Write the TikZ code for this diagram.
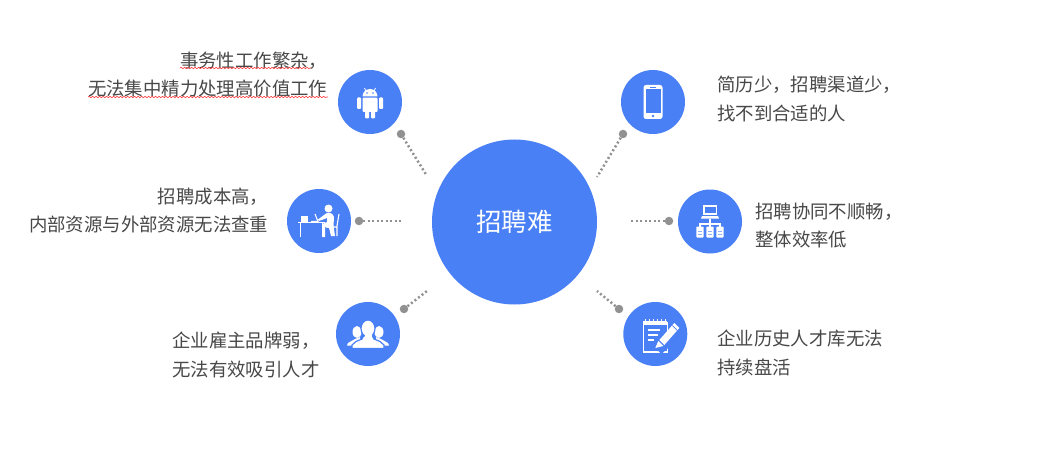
\documentclass[tikz,border=0pt]{standalone}
\usepackage{fontspec}
\setmainfont{Noto Sans CJK SC}
\usetikzlibrary{decorations.pathmorphing}
\definecolor{hub}{RGB}{74,128,245}
\definecolor{txt}{RGB}{72,72,72}
\definecolor{dotc}{RGB}{145,145,145}
\tikzset{
  x=1pt,y=-1pt,
  hubc/.style={circle,fill=hub,draw=none,inner sep=0pt,minimum size=#1},
  pin/.style={circle,fill=dotc,draw=none,inner sep=0pt,minimum size=8.5pt},
  link/.style={draw=dotc,line width=2.5pt,dash pattern=on 2pt off 2.5pt},
  lab/.style={text=txt,font=\fontsize{18.4}{28.8}\selectfont,inner sep=0pt},
  labr/.style={lab,align=right,anchor=east},
  labl/.style={lab,align=left,anchor=west},
  wavy/.style={draw=red!75!white,line width=0.6pt,decorate,decoration={snake,amplitude=0.7pt,segment length=3.5pt}},
  ic/.style={fill=white,draw=none},
  icl/.style={draw=white,line width=1.1pt},
}
\begin{document}
\begin{tikzpicture}
\useasboundingbox (0,0) rectangle (1040,465);
\fill[white] (0,0) rectangle (1040,465);
% hub
\node[hubc=165pt,text=white,font=\fontsize{25.5}{30}\selectfont] (hubn) at (514.5,222) {招聘难};
% satellites
\node[hubc=64pt] (a) at (370,102) {};
\node[hubc=64pt] (b) at (319,221) {};
\node[hubc=64pt] (c) at (368,334) {};
\node[hubc=64pt] (d) at (653,102) {};
\node[hubc=64pt] (e) at (710,221.5) {};
\node[hubc=64pt] (f) at (655.3,334) {};
% pins and connectors
\node[pin] (pa) at (401,134) {}; \coordinate (qa) at (427,176);
\node[pin] (pb) at (359,221) {}; \coordinate (qb) at (401,221);
\node[pin] (pc) at (404,309) {}; \coordinate (qc) at (427,291);
\node[pin] (pd) at (623,134) {}; \coordinate (qd) at (597,177);
\node[pin] (pe) at (669,221) {}; \coordinate (qe) at (629,221);
\node[pin] (pf) at (619,309) {}; \coordinate (qf) at (597,291);
\draw[link] (pa) -- (qa);
\draw[link] (pb) -- (qb);
\draw[link] (pc) -- (qc);
\draw[link] (pd) -- (qd);
\draw[link] (pe) -- (qe);
\draw[link] (pf) -- (qf);
% labels
\node[labr] (la) at (327.5,74.5) {事务性工作繁杂，\\无法集中精力处理高价值工作};
\node[labr] (lb) at (268.5,210.5) {招聘成本高，\\内部资源与外部资源无法查重};
\node[labl] (lc) at (172,354.7) {企业雇主品牌弱，\\无法有效吸引人才};
\node[labl] (ld) at (717,98.7) {简历少，招聘渠道少，\\找不到合适的人};
\node[labl] (le) at (755,225.5) {招聘协同不顺畅，\\整体效率低};
\node[labl] (lf) at (717,352.7) {企业历史人才库无法\\持续盘活};
% spell-check underlines
\draw[wavy] (180,68) -- (311,68);
\draw[wavy] (88,97) -- (328,97);
% android icon
\begin{scope}[shift={(370,102)}]
  \fill[ic] (-7.5,-5.5) arc[start angle=180,end angle=360,radius=7.5] -- cycle;
  \draw[icl,line width=.8pt] (-4,-11) -- (-5.5,-14) (4,-11) -- (5.5,-14);
  \fill[hub] (-3,-9) circle (.8) (3,-9) circle (.8);
  \fill[ic,rounded corners=1pt] (-7.5,-4.4) rectangle (7.5,10);
  \fill[ic,rounded corners=1pt] (-13,-4.5) rectangle (-9,7);
  \fill[ic,rounded corners=1pt] (9,-4.5) rectangle (13,7);
  \fill[ic,rounded corners=1pt] (-5,8) rectangle (-1,16.5);
  \fill[ic,rounded corners=1pt] (1,8) rectangle (5,16.5);
\end{scope}
% phone icon
\begin{scope}[shift={(653,102)}]
  \fill[ic,rounded corners=2.5pt] (-9.5,-17) rectangle (9.5,17);
  \fill[hub] (-7.5,-12.5) rectangle (7.5,11);
  \fill[hub] (0,14) circle (1.3);
  \fill[hub] (-3,-15) rectangle (3,-14);
\end{scope}
% person at desk icon
\begin{scope}[shift={(319,221)}]
  \draw[icl] (-21,1.5) -- (6,1.5);
  \draw[icl] (-18.5,1.5) -- (-18.5,16) (3.5,1.5) -- (3.5,16);
  \fill[ic] (-18,-5) rectangle (-11,0.8);
  \draw[icl] (-4,-7) -- (-1,0.5) -- (-8,0.5);
  \fill[ic] (9.5,-12.5) circle (4);
  \fill[ic] (7,-7.5) .. controls (10,-9) and (14,-8) .. (15,-4) -- (14.5,5) -- (16,15) -- (12,15) -- (10,7) -- (6,6) -- (6,16) -- (3.5,16) -- (3.5,3) -- (8,1) -- (8,-3) -- (0,0) -- (-1,-1.5) -- cycle;
  \draw[icl] (20,-7) -- (18,5) -- (18,15) (18,6) -- (7,6);
\end{scope}
% people icon
\begin{scope}[shift={(368,334)}]
  \fill[ic] (-11,-2) ellipse (4.5 and 6);
  \fill[ic] (11,-2) ellipse (4.5 and 6);
  \fill[ic] (-21,11.5) -- (-20,9) -- (-13,5) -- (-8,3) -- (-8,12) -- cycle;
  \fill[ic] (21,11.5) -- (20,9) -- (13,5) -- (8,3) -- (8,12) -- cycle;
  \draw[hub,line width=1.2pt,fill=white] (-16,14.5) -- (-16,11) -- (-12,7.5) -- (-6,5) -- (-4,1) -- (4,1) -- (6,5) -- (12,7.5) -- (16,11) -- (16,14.5) -- cycle;
  \draw[hub,line width=1.2pt,fill=white] (0,-5.5) ellipse (7 and 8.5);
  \fill[ic] (-3.5,0) rectangle (3.5,6);
\end{scope}
% network icon
\begin{scope}[shift={(710,221.5)}]
  \draw[icl] (-6,-15.5) rectangle (6.5,-7.5);
  \fill[ic] (-8,-5.5) -- (8,-5.5) -- (9,-3) -- (-9,-3) -- cycle;
  \draw[icl] (0,-3) -- (0,5) (-10,5) -- (-10,2.5) -- (10,2.5) -- (10,5);
  \foreach \cx in {-10,0,10}{
    \fill[ic,rounded corners=.8pt] (\cx-3.7,5) rectangle (\cx+3.7,16);
    \fill[hub!60!white] (\cx-2,12) rectangle (\cx+2,13);
    \fill[hub!60!white] (\cx-2,9) rectangle (\cx+2,9.7);
  }
\end{scope}
% notepad icon
\begin{scope}[shift={(655.3,334)}]
  \draw[icl] (-12,-11) rectangle (12,18);
  \fill[ic] (-12,-13) rectangle (12,-9);
  \foreach \nx in {-10,-6,-2,2,6,10}{\fill[ic] (\nx-.7,-15) rectangle (\nx+.7,-12);}
  \draw[icl,line width=1.3pt] (-7,-4) -- (5,-4) (-7,1) -- (3,1) (-7,6) -- (-1,6);
  \fill[hub] (2,16) -- (10,7) -- (20,-7) -- (25,-2) -- (13,14) -- (6,20) -- cycle;
  \fill[ic] (19,-11) -- (24,-6) -- (9,11) -- (4,6) -- cycle;
  \fill[ic] (3,7) -- (8,12) -- (0,14) -- cycle;
  \draw[hub,line width=.7pt] (17,-8.5) -- (22,-3.5);
\end{scope}
\end{tikzpicture}
\end{document}
